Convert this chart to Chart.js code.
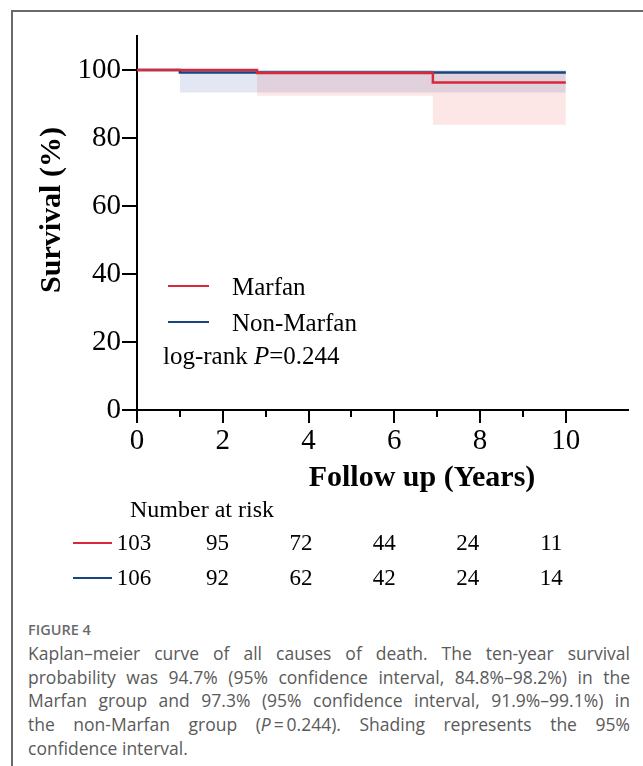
<!DOCTYPE html>
<html>
<head>
<meta charset="utf-8">
<script src="https://cdn.jsdelivr.net/npm/chart.js@4.4.1/dist/chart.umd.min.js"></script>
<style>
body { margin: 0; background: #fff; }
#frame { position: absolute; left: 11px; top: 10px; width: 640px; height: 760px; border-top: 2px solid #6a6a6a; border-left: 2px solid #6a6a6a; }
#km { position: absolute; left: 0; top: 0; }
#cap { position: absolute; left: 28px; top: 618px; width: 602px; font-family: "Open Sans", sans-serif; font-size: 17.5px; line-height: 23.8px; color: #5a5a5a; }
#cap .fig { font-weight: 600; font-size: 14.5px; color: #6a6a6a; }
#cap .j { text-align: justify; text-align-last: justify; white-space: nowrap; }
</style>
</head>
<body>
<div id="frame"></div>
<canvas id="km" width="643" height="610"></canvas>
<div id="cap">
  <div class="fig">FIGURE 4</div>
  <div class="j">Kaplan–meier curve of all causes of death. The ten-year survival</div>
  <div class="j">probability was 94.7% (95% confidence interval, 84.8%–98.2%) in the</div>
  <div class="j">Marfan group and 97.3% (95% confidence interval, 91.9%–99.1%) in</div>
  <div class="j">the non-Marfan group (<i>P</i>&#8201;=&#8201;0.244). Shading represents the 95%</div>
  <div>confidence interval.</div>
</div>
<script>
// survival steps (years, %)
var marfanTimes = [0, 2.8, 6.9, 10];
var marfanSurv = [100, 99.1, 96.3, 96.3];
var nonMarfanTimes = [0, 1.0, 10];
var nonMarfanSurv = [100, 99.3, 99.3];

// 95% CI bands
var marfanCiTimes = [2.8, 6.9, 10];
var marfanCiUpper = [100, 99.4, 99.4];
var marfanCiLower = [92.4, 83.9, 83.9];
var nonMarfanCiTimes = [1.0, 10];
var nonMarfanCiUpper = [100, 100];
var nonMarfanCiLower = [93.4, 93.4];

// axes
var xTicks = [0, 2, 4, 6, 8, 10];
var xMinorTicks = [1, 3, 5, 7, 9];
var yTicks = [0, 20, 40, 60, 80, 100];

// number at risk
var riskYears = [0, 2, 4, 6, 8, 10];
var riskMarfan = [103, 95, 72, 44, 24, 11];
var riskNonMarfan = [106, 92, 62, 42, 24, 14];

var RED = '#d62a3a';
var BLUE = '#17457f';
var SERIF = '"Liberation Serif", "Times New Roman", serif';

function pts(xs, ys) {
    var out = [];
    for (var i = 0; i < xs.length; i++) {
        out.push({x: xs[i], y: ys[i]});
    }
    return out;
}

var extras = {
    id: 'extras',
    afterDraw: function(chart) {
        var ctx = chart.ctx;
        var xs = chart.scales.x;
        var area = chart.chartArea;
        ctx.save();

        // minor ticks on x axis
        ctx.strokeStyle = '#000';
        ctx.lineWidth = 2;
        for (var i = 0; i < xMinorTicks.length; i++) {
            var px = Math.round(xs.getPixelForValue(xMinorTicks[i]));
            ctx.beginPath();
            ctx.moveTo(px, area.bottom);
            ctx.lineTo(px, area.bottom + 7);
            ctx.stroke();
        }

        // axis titles
        ctx.fillStyle = '#000';
        ctx.font = 'bold 30px ' + SERIF;
        ctx.textAlign = 'center';
        ctx.textBaseline = 'middle';
        ctx.fillText('Follow up (Years)', 422, 478);
        ctx.save();
        ctx.translate(52, 210);
        ctx.rotate(-Math.PI / 2);
        ctx.fillText('Survival (%)', 0, 0);
        ctx.restore();

        // legend inside plot
        ctx.lineWidth = 2;
        ctx.strokeStyle = RED;
        ctx.beginPath(); ctx.moveTo(168, 286); ctx.lineTo(209, 286); ctx.stroke();
        ctx.strokeStyle = BLUE;
        ctx.beginPath(); ctx.moveTo(168, 322); ctx.lineTo(209, 322); ctx.stroke();
        ctx.font = '25px ' + SERIF;
        ctx.textAlign = 'left';
        ctx.fillText('Marfan', 232, 288);
        ctx.fillText('Non-Marfan', 232, 324);
        var lr = 'log-rank ';
        ctx.fillText(lr, 163, 357);
        var w = ctx.measureText(lr).width;
        ctx.font = 'italic 25px ' + SERIF;
        ctx.fillText('P', 163 + w, 357);
        var w2 = ctx.measureText('P').width;
        ctx.font = '25px ' + SERIF;
        ctx.fillText('=0.244', 163 + w + w2, 357);

        // number at risk table
        ctx.font = '24px ' + SERIF;
        ctx.fillText('Number at risk', 130, 511);
        ctx.font = '23px ' + SERIF;
        ctx.lineWidth = 2;
        ctx.strokeStyle = RED;
        ctx.beginPath(); ctx.moveTo(73, 543); ctx.lineTo(112, 543); ctx.stroke();
        ctx.strokeStyle = BLUE;
        ctx.beginPath(); ctx.moveTo(73, 578); ctx.lineTo(112, 578); ctx.stroke();
        ctx.textAlign = 'center';
        var x0 = xs.getPixelForValue(0);
        for (var j = 0; j < riskYears.length; j++) {
            var cx = x0 - 3 + (xs.getPixelForValue(riskYears[j]) - x0) * 0.973;
            ctx.fillText(String(riskMarfan[j]), cx, 544);
            ctx.fillText(String(riskNonMarfan[j]), cx, 579);
        }
        ctx.restore();
    }
};

var ctx = document.getElementById('km').getContext('2d');
var chart = new Chart(ctx, {
    type: 'line',
    data: {
        datasets: [
            {
                label: 'Marfan',
                data: pts(marfanTimes, marfanSurv),
                borderColor: RED,
                borderWidth: 2.5,
                stepped: true,
                pointRadius: 0,
                fill: false,
                order: 0
            },
            {
                label: 'Non-Marfan',
                data: pts(nonMarfanTimes, nonMarfanSurv),
                borderColor: BLUE,
                borderWidth: 2.5,
                stepped: true,
                pointRadius: 0,
                fill: false,
                order: 1
            },
            {
                label: 'Non-Marfan CI upper',
                data: pts(nonMarfanCiTimes, nonMarfanCiUpper),
                borderWidth: 0,
                stepped: true,
                pointRadius: 0,
                fill: false,
                order: 2
            },
            {
                label: 'Non-Marfan CI lower',
                data: pts(nonMarfanCiTimes, nonMarfanCiLower),
                borderWidth: 0,
                stepped: true,
                pointRadius: 0,
                backgroundColor: 'rgba(40, 70, 160, 0.13)',
                fill: '-1',
                order: 3
            },
            {
                label: 'Marfan CI upper',
                data: pts(marfanCiTimes, marfanCiUpper),
                borderWidth: 0,
                stepped: true,
                pointRadius: 0,
                fill: false,
                order: 4
            },
            {
                label: 'Marfan CI lower',
                data: pts(marfanCiTimes, marfanCiLower),
                borderWidth: 0,
                stepped: true,
                pointRadius: 0,
                backgroundColor: 'rgba(235, 80, 80, 0.14)',
                fill: '-1',
                order: 5
            }
        ]
    },
    options: {
        responsive: false,
        animation: false,
        events: [],
        layout: { padding: { left: 30, right: 15, top: 36, bottom: 160 } },
        plugins: {
            legend: { display: false },
            tooltip: { enabled: false }
        },
        scales: {
            x: {
                type: 'linear',
                min: 0,
                max: 11.45,
                afterBuildTicks: function(s) {
                    s.ticks = xTicks.map(function(v) { return {value: v}; });
                },
                afterFit: function(s) { s.height = 40; },
                border: { color: '#000', width: 2 },
                grid: { drawOnChartArea: false, color: '#000', lineWidth: 2, tickLength: 13 },
                ticks: { color: '#000', font: { family: SERIF, size: 29 }, padding: 1, maxRotation: 0, autoSkip: false }
            },
            y: {
                min: 0,
                max: 110,
                afterBuildTicks: function(s) {
                    s.ticks = yTicks.map(function(v) { return {value: v}; });
                },
                afterFit: function(s) { s.width = 107; },
                border: { color: '#000', width: 2 },
                grid: { drawOnChartArea: false, color: '#000', lineWidth: 2, tickLength: 15 },
                ticks: { color: '#000', font: { family: SERIF, size: 29 }, padding: 1 }
            }
        }
    },
    plugins: [extras]
});
</script>
</body>
</html>
